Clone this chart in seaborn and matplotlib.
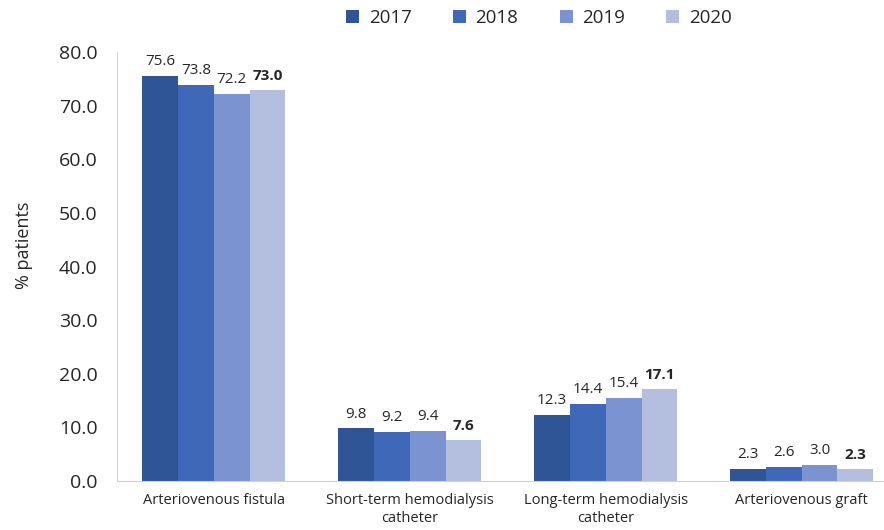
import pandas as pd
import seaborn as sns
import matplotlib.pyplot as plt

# Vascular access type by year
categories = ["Arteriovenous fistula", "Short-term hemodialysis\ncatheter",
              "Long-term hemodialysis\ncatheter", "Arteriovenous graft"]
years = ["2017", "2018", "2019", "2020"]
v2017 = [75.6, 9.8, 12.3, 2.3]
v2018 = [73.8, 9.2, 14.4, 2.6]
v2019 = [72.2, 9.4, 15.4, 3.0]
v2020 = [73.0, 7.6, 17.1, 2.3]
colors = ["#2F5597", "#3F69B8", "#7B93D0", "#B4BFE0"]

rows = []
for yr, vals in zip(years, [v2017, v2018, v2019, v2020]):
    for cat, v in zip(categories, vals):
        rows.append({"category": cat, "year": yr, "value": v})
df = pd.DataFrame(rows)

sns.set_style("white")
plt.rcParams["font.family"] = ["Open Sans", "DejaVu Sans"]

fig = plt.figure(figsize=(8.84, 5.30), dpi=100)
ax = fig.add_axes([117 / 884, 1 - 481 / 530, 1 - 117 / 884, (481 - 52) / 530])

sns.barplot(data=df, x="category", y="value", hue="year", palette=colors,
            width=0.73, saturation=1, linewidth=0, ax=ax)

for i, cont in enumerate(ax.containers):
    labels = ax.bar_label(cont, fmt="%.1f", padding=5, fontsize=11)
    if i == 3:
        for t in labels:
            t.set_fontweight("bold")

ax.set_ylim(0, 80)
ax.set_xlim(-0.495, 3.42)
ax.set_yticks(range(0, 81, 10))
ax.set_yticklabels([f"{t:.1f}" for t in range(0, 81, 10)], fontsize=14)
ax.tick_params(axis="x", labelsize=10.5, length=0, pad=9)
for t in ax.get_xticklabels():
    t.set_linespacing(1.25)
ax.tick_params(axis="y", length=0, pad=14)
ax.set_xlabel("")
ax.set_ylabel("% patients", fontsize=13)
ax.yaxis.set_label_coords(-0.11, 0.55)

for s in ["top", "right"]:
    ax.spines[s].set_visible(False)
ax.spines["left"].set_color("#D0D0D0")
ax.spines["bottom"].set_color("#D0D0D0")

ax.legend(loc="upper center", bbox_to_anchor=(0.55, 1.14), ncol=4, frameon=False,
          fontsize=13.5, handlelength=0.7, handleheight=0.7, columnspacing=2.2,
          handletextpad=0.5)

fig.savefig("out.png", dpi=100)
